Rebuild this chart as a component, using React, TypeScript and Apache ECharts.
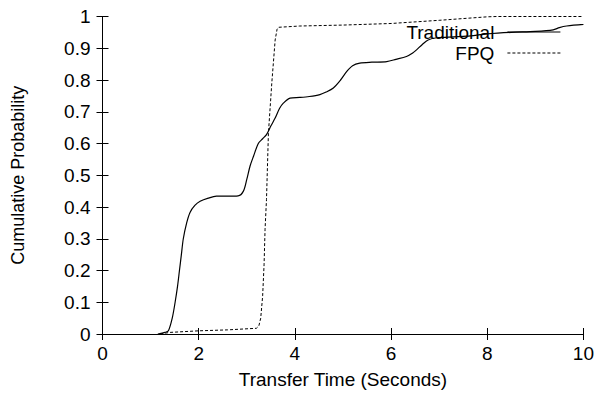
import React, { useEffect, useRef } from "react";
import * as echarts from "echarts";

const traditionalX = [1.15, 1.3, 1.37, 1.45, 1.51, 1.56, 1.6, 1.64, 1.68, 1.75, 1.82, 1.92, 2.03, 2.2, 2.37, 2.6, 2.82, 2.93, 3.0, 3.07, 3.14, 3.24, 3.33, 3.41, 3.5, 3.59, 3.68, 3.76, 3.9, 4.1, 4.3, 4.52, 4.65, 4.8, 4.95, 5.08, 5.2, 5.35, 5.6, 5.91, 6.1, 6.32, 6.45, 6.53, 6.65, 6.77, 6.95, 7.3, 7.57, 8.0, 8.5, 9.0, 9.37, 9.5, 9.65, 10];
const traditionalY = [0, 0.005, 0.01, 0.05, 0.1, 0.15, 0.2, 0.25, 0.3, 0.35, 0.383, 0.405, 0.418, 0.428, 0.434, 0.434, 0.435, 0.45, 0.487, 0.53, 0.56, 0.6, 0.615, 0.628, 0.655, 0.68, 0.71, 0.727, 0.743, 0.745, 0.748, 0.754, 0.762, 0.775, 0.8, 0.827, 0.845, 0.853, 0.856, 0.858, 0.865, 0.874, 0.885, 0.895, 0.912, 0.926, 0.933, 0.936, 0.938, 0.945, 0.95, 0.953, 0.958, 0.965, 0.97, 0.975];

const fpqX = [1.2, 1.4, 2.0, 2.6, 3.2, 3.25, 3.29, 3.33, 3.36, 3.38, 3.41, 3.45, 3.52, 3.59, 3.63, 3.66, 4.1, 5.0, 6.0, 7.0, 8.0, 8.2, 10];
const fpqY = [0, 0.005, 0.01, 0.013, 0.018, 0.025, 0.05, 0.12, 0.22, 0.33, 0.424, 0.633, 0.79, 0.926, 0.96, 0.966, 0.97, 0.973, 0.978, 0.988, 0.999, 1, 1];

const seriesNames = ["Traditional", "FPQ"];

const FONT = "'Liberation Sans', Arial, Helvetica, sans-serif";

export default function App() {
  const ref = useRef<HTMLDivElement>(null);
  useEffect(() => {
    if (!ref.current) return;
    const chart = echarts.init(ref.current, null, { renderer: "svg" });
    const axisLine = { show: true, lineStyle: { color: "#000", width: 1 } };
    const tick = { show: true, inside: true, length: 6, lineStyle: { color: "#000", width: 1 } };
    chart.setOption({
      animation: false,
      backgroundColor: "#fff",
      textStyle: { fontFamily: FONT },
      grid: { left: 102.5, right: 13.5, top: 16.5, bottom: 59, containLabel: false },
      legend: {
        orient: "vertical",
        align: "right",
        right: 31,
        top: 17,
        itemWidth: 53,
        itemHeight: 10,
        itemGap: 1,
        itemStyle: { color: "transparent", borderColor: "transparent", borderWidth: 0, opacity: 0 },
        lineStyle: { width: 1.2, type: "inherit" },
        textStyle: { fontSize: 19, lineHeight: 20, color: "#000", fontFamily: FONT, padding: [0, 8, 0, 0] },
        data: seriesNames,
      },
      xAxis: [
        {
          type: "value",
          min: 0,
          max: 10,
          interval: 2,
          name: "Transfer Time (Seconds)",
          nameLocation: "middle",
          nameGap: 36,
          nameTextStyle: { fontSize: 19, color: "#000", fontFamily: FONT },
          axisLine,
          axisTick: tick,
          splitLine: { show: false },
          axisLabel: { fontSize: 19, color: "#000", margin: 10, fontFamily: FONT },
        },
        {
          type: "value",
          position: "top",
          min: 0,
          max: 10,
          interval: 2,
          axisLine,
          axisTick: tick,
          splitLine: { show: false },
          axisLabel: { show: false },
        },
      ],
      yAxis: [
        {
          type: "value",
          min: 0,
          max: 1,
          interval: 0.1,
          name: "Cumulative Probability",
          nameLocation: "middle",
          nameGap: 76,
          nameTextStyle: { fontSize: 18, color: "#000", fontFamily: FONT },
          axisLine,
          axisTick: tick,
          splitLine: { show: false },
          axisLabel: { fontSize: 19, color: "#000", margin: 12, fontFamily: FONT },
        },
        {
          type: "value",
          position: "right",
          min: 0,
          max: 1,
          interval: 0.1,
          axisLine,
          axisTick: tick,
          splitLine: { show: false },
          axisLabel: { show: false },
        },
      ],
      series: [
        {
          name: seriesNames[0],
          type: "line",
          symbol: "none",
          smooth: 0.3,
          data: traditionalX.map((x, i) => [x, traditionalY[i]]),
          lineStyle: { color: "#000", width: 1.2, type: "solid" },
          itemStyle: { color: "#000" },
        },
        {
          name: seriesNames[1],
          type: "line",
          symbol: "none",
          data: fpqX.map((x, i) => [x, fpqY[i]]),
          lineStyle: { color: "#000", width: 1, type: [3, 2] },
          itemStyle: { color: "#000" },
        },
      ],
    });
    return () => chart.dispose();
  }, []);
  return (
    <div
      ref={ref}
      style={{ position: "fixed", left: 0, top: 0, width: 597, height: 394 }}
    />
  );
}
